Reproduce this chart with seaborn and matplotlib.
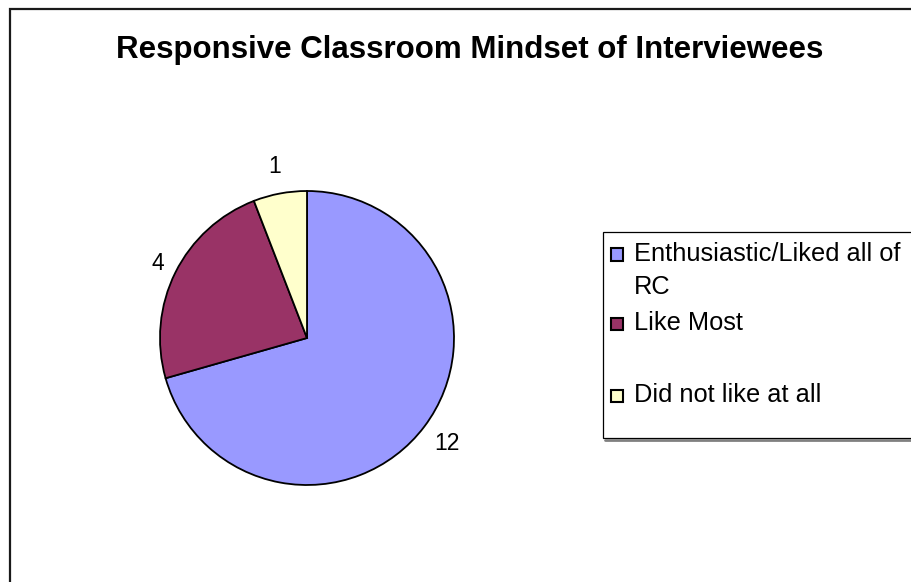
import matplotlib
matplotlib.use("Agg")
import matplotlib.pyplot as plt
import seaborn as sns
import numpy as np
from matplotlib.patches import Rectangle
from matplotlib.lines import Line2D

sns.set_theme(style="white")
plt.rcParams['font.family'] = ['Liberation Sans', 'DejaVu Sans']

# ---- data ----
title = "Responsive Classroom Mindset of Interviewees"
categories = ["Enthusiastic/Liked all of\nRC", "Like Most", "Did not like at all"]
values = [12, 4, 1]
colors = ["#9999FF", "#993366", "#FFFFCC"]
label_dist = [1.19, 1.13, 1.19]

W, H = 912, 582
fig = plt.figure(figsize=(W / 100, H / 100), dpi=100)
fig.patch.set_facecolor("white")

def fx(px):
    return px / W

def fy(py):
    return 1 - py / H

# outer chart frame (extends past right/bottom edges)
fig.add_artist(Rectangle((fx(10), fy(600)), fx(930) - fx(10), fy(9) - fy(600),
                         transform=fig.transFigure, fill=False,
                         edgecolor="#1a1a1a", linewidth=1.6))

# pie axes: center (307,338), radius 147 px
cx, cy, r = 307, 338, 147
half = 1.5 * r
ax = fig.add_axes([fx(cx - half), fy(cy + half), 2 * half / W, 2 * half / H])
wedges, _ = ax.pie(values, colors=colors, startangle=90, counterclock=False,
                   wedgeprops=dict(edgecolor="black", linewidth=1.3))
ax.set_xlim(-1.5, 1.5)
ax.set_ylim(-1.5, 1.5)
ax.set_aspect("equal")
ax.axis("off")

for w, v, d in zip(wedges, values, label_dist):
    ang = np.deg2rad((w.theta1 + w.theta2) / 2)
    ax.text(d * np.cos(ang), d * np.sin(ang), str(v), ha="center", va="center",
            fontsize=16.5, color="black")

fig.text(fx(470), fy(50), title, ha="center", va="center",
         fontsize=22.5, fontweight="bold", color="black")

# legend box
lx0, ly0, ly1 = 603, 232, 438
fig.add_artist(Rectangle((fx(lx0), fy(ly1)), fx(930) - fx(lx0), fy(ly0) - fy(ly1),
                         transform=fig.transFigure, facecolor="white",
                         edgecolor="black", linewidth=0.9))
fig.add_artist(Line2D([fx(lx0 + 2), fx(930)], [fy(ly1 + 1.5), fy(ly1 + 1.5)],
                      transform=fig.transFigure, color="#808080", linewidth=2))

entry_y = [254, 323.5, 395]
for lab, col, ey in zip(categories, colors, entry_y):
    fig.add_artist(Rectangle((fx(611), fy(ey + 6.5)), 12 / W, 12 / H,
                             transform=fig.transFigure, facecolor=col,
                             edgecolor="black", linewidth=1.5))
    lines = lab.split("\n")
    for i, ln in enumerate(lines):
        fig.text(fx(634), fy(ey + i * 33), ln, ha="left", va="center",
                 fontsize=18.3, color="black")

fig.savefig("out.png", dpi=100, facecolor="white")
